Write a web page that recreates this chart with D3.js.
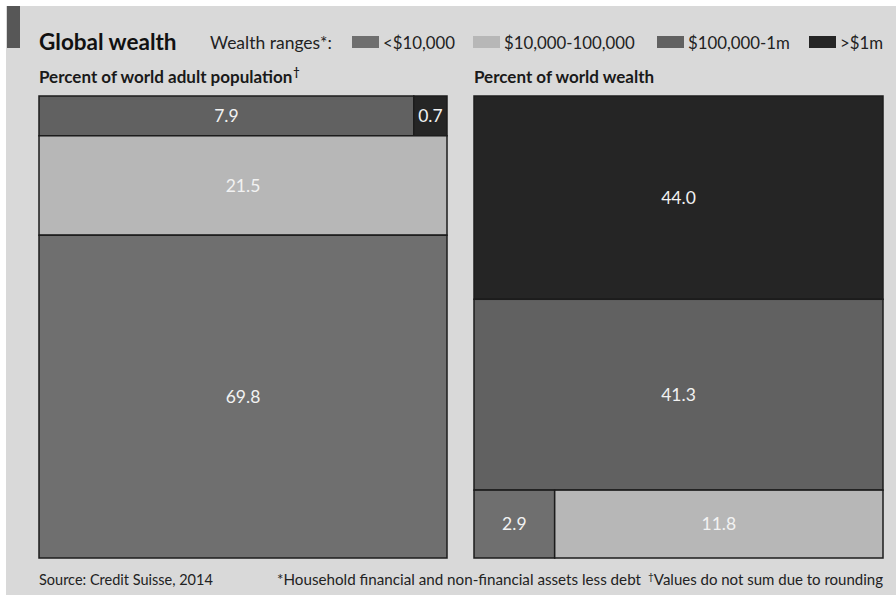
<!DOCTYPE html>
<html>
<head>
<meta charset="utf-8">
<script src="https://cdn.jsdelivr.net/npm/d3@7"></script>
<style>
  body { margin: 0; background: #fff; }
  text { font-family: Lato, 'Open Sans', sans-serif; }
</style>
</head>
<body>
<script>
// wealth bands, in legend order
let ranges = ['<$10,000', '$10,000-100,000', '$100,000-1m', '>$1m']

// left panel: share of world adult population, stacked rows top to bottom
let popRows = [['$100,000-1m', '>$1m'], ['$10,000-100,000'], ['<$10,000']]
let popValues = [[7.9, 0.7], [21.5], [69.8]]

// right panel: share of world wealth
let wealthRows = [['>$1m'], ['$100,000-1m'], ['<$10,000', '$10,000-100,000']]
let wealthValues = [[44.0], [41.3], [2.9, 11.8]]

let width = 896
let height = 595

let svg = d3.select('body').append('svg')
  .attr('width', width)
  .attr('height', height)

// background
svg.append('rect')
  .attr('x', 6).attr('y', 6)
  .attr('width', width - 6).attr('height', height - 6)
  .attr('fill', '#d9d9d9')
svg.append('rect')
  .attr('x', 7).attr('y', 6)
  .attr('width', 13).attr('height', 42)
  .attr('fill', '#575757')

let color = d3.scaleOrdinal()
  .domain(ranges)
  .range(['#6f6f6f', '#b7b7b7', '#616161', '#252525'])

// title + legend
svg.append('text')
  .attr('x', 39).attr('y', 50)
  .attr('font-size', 22.5).attr('font-weight', 700)
  .attr('fill', '#111')
  .text('Global wealth')
svg.append('text')
  .attr('x', 210).attr('y', 49)
  .attr('font-size', 17.5)
  .attr('fill', '#222')
  .text('Wealth ranges*:')

let legendX = [352, 473, 657, 809]
let legend = svg.selectAll('.legend')
  .data(ranges)
  .join('g')
  .attr('class', 'legend')
  .attr('transform', (d, i) => `translate(${legendX[i]},0)`)
legend.append('rect')
  .attr('x', 0).attr('y', 36)
  .attr('width', 27).attr('height', 12)
  .attr('fill', d => color(d))
legend.append('text')
  .attr('x', 31).attr('y', 49)
  .attr('font-size', 16.8)
  .attr('fill', '#222')
  .text(d => d)

let fmt = d3.format('.1f')
let panelTop = 96
let panelBottom = 558

function drawPanel (x0, x1, title, mark, rows, values) {
  let g = svg.append('g')
  let t = g.append('text')
    .attr('x', x0).attr('y', 83)
    .attr('font-size', 17).attr('font-weight', 700)
    .attr('fill', '#1a1a1a')
  t.append('tspan').text(title)
  if (mark) {
    t.append('tspan')
      .attr('font-size', 11)
      .attr('dx', 1)
      .attr('dy', -7)
      .text(mark)
  }

  let rowSums = values.map(v => d3.sum(v))
  let cum = [0]
  rowSums.forEach(s => cum.push(cum[cum.length - 1] + s))
  let y = d3.scaleLinear()
    .domain([0, cum[cum.length - 1]])
    .range([panelTop, panelBottom])

  let cells = []
  rows.forEach((row, r) => {
    let x = d3.scaleLinear().domain([0, rowSums[r]]).range([x0, x1])
    let acc = 0
    row.forEach((range, c) => {
      let v = values[r][c]
      cells.push({
        range: range,
        value: v,
        x: x(acc), w: x(acc + v) - x(acc),
        y: y(cum[r]), h: y(cum[r + 1]) - y(cum[r])
      })
      acc += v
    })
  })

  let cell = g.selectAll('.cell')
    .data(cells)
    .join('g')
    .attr('class', 'cell')
  cell.append('rect')
    .attr('x', d => d.x).attr('y', d => d.y)
    .attr('width', d => d.w).attr('height', d => d.h)
    .attr('fill', d => color(d.range))
    .attr('stroke', '#1c1c1c')
    .attr('stroke-width', 1.5)
  cell.append('text')
    .attr('x', d => d.x + d.w / 2)
    .attr('y', d => d.y + d.h / 2)
    .attr('dy', '0.35em')
    .attr('text-anchor', 'middle')
    .attr('font-size', 17.5)
    .attr('fill', '#f2f2f2')
    .text(d => fmt(d.value))
}

drawPanel(39, 447, 'Percent of world adult population', '†', popRows, popValues)
drawPanel(474, 883, 'Percent of world wealth', null, wealthRows, wealthValues)

// footer
svg.append('text')
  .attr('x', 39).attr('y', 585)
  .attr('font-size', 14.5)
  .attr('fill', '#222')
  .text('Source: Credit Suisse, 2014')
svg.append('text')
  .attr('x', 277).attr('y', 585)
  .attr('font-size', 15.2)
  .attr('fill', '#222')
  .text('*Household financial and non-financial assets less debt')
let note = svg.append('text')
  .attr('x', 883).attr('y', 585)
  .attr('text-anchor', 'end')
  .attr('font-size', 15)
  .attr('fill', '#222')
note.append('tspan')
  .attr('font-size', 10)
  .attr('dy', -5)
  .text('†')
note.append('tspan')
  .attr('dy', 5)
  .text('Values do not sum due to rounding')
</script>
</body>
</html>
